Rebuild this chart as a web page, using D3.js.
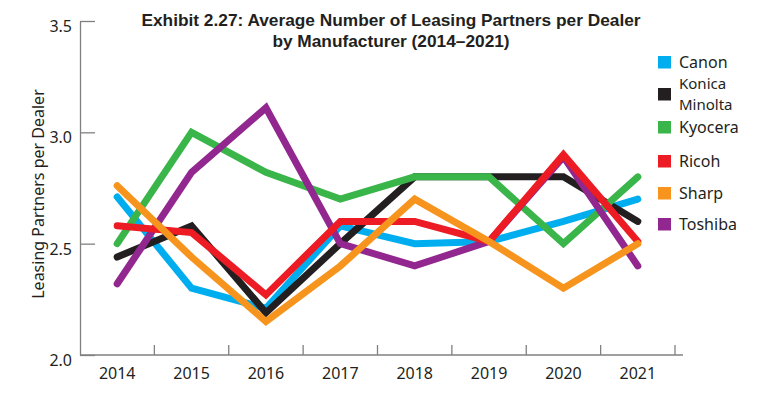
<!DOCTYPE html>
<html>
<head>
<meta charset="utf-8">
<script src="https://cdn.jsdelivr.net/npm/d3@7"></script>
<style>
  body { margin: 0; background: #fff; }
  svg { display: block; }
  text { fill: #231f20; }
</style>
</head>
<body>
<svg width="780" height="396"></svg>
<script>
const years = ["2014", "2015", "2016", "2017", "2018", "2019", "2020", "2021"];
const canon   = [2.71, 2.30, 2.21, 2.58, 2.50, 2.51, 2.60, 2.70];
const konica  = [2.44, 2.58, 2.19, 2.50, 2.80, 2.80, 2.80, 2.60];
const kyocera = [2.50, 3.00, 2.82, 2.70, 2.80, 2.80, 2.50, 2.80];
const ricoh   = [2.58, 2.55, 2.27, 2.60, 2.60, 2.51, 2.90, 2.51];
const sharp   = [2.76, 2.44, 2.15, 2.40, 2.70, 2.51, 2.30, 2.50];
const toshiba = [2.32, 2.82, 3.11, 2.50, 2.40, 2.51, 2.89, 2.40];
const yTicks = [2.0, 2.5, 3.0, 3.5];

const series = [
  { name: ["Canon"], values: canon, color: "#00aeef", z: 0 },
  { name: ["Konica", "Minolta"], values: konica, color: "#231f20", z: 1 },
  { name: ["Kyocera"], values: kyocera, color: "#39b54a", z: 2 },
  { name: ["Ricoh"], values: ricoh, color: "#ed1c24", z: 4 },
  { name: ["Sharp"], values: sharp, color: "#f7941d", z: 5 },
  { name: ["Toshiba"], values: toshiba, color: "#92278f", z: 3 }
];

const svg = d3.select("svg");
const plotLeft = 80, plotRight = 675, plotTop = 21, plotBottom = 355;

const x = d3.scaleBand().domain(years).range([plotLeft, plotRight]);
const y = d3.scaleLinear().domain([2, 3.5]).range([plotBottom, plotTop]);
const axisColor = "#808080";

// title
svg.append("text")
  .attr("x", 391).attr("text-anchor", "middle")
  .style("font-family", "'Liberation Sans', Arial, sans-serif")
  .style("font-weight", "bold")
  .style("font-size", "17.3px")
  .selectAll("tspan")
  .data(["Exhibit 2.27: Average Number of Leasing Partners per Dealer", "by Manufacturer (2014\u20132021)"])
  .join("tspan")
  .attr("x", 391)
  .attr("y", (d, i) => 26 + i * 21)
  .text(d => d);

// y axis
const yAxis = svg.append("g")
  .attr("transform", `translate(${plotLeft},0)`)
  .call(d3.axisLeft(y).tickValues(yTicks).tickFormat(d3.format(".1f"))
    .tickSizeInner(-15).tickSizeOuter(0).tickPadding(8));
yAxis.select(".domain").attr("stroke", axisColor).attr("stroke-width", 1.3);
yAxis.selectAll(".tick line").attr("stroke", axisColor).attr("stroke-width", 1.3);
yAxis.selectAll(".tick text")
  .attr("dy", "0.65em")
  .style("font-family", "'Noto Sans', sans-serif")
  .style("font-size", "16px")
  .attr("fill", "#231f20");

// x axis: labels at band centres, ticks at band edges
const xAxis = svg.append("g")
  .attr("transform", `translate(0,${plotBottom})`)
  .call(d3.axisBottom(x).tickSize(0).tickPadding(10));
xAxis.select(".domain").remove();
xAxis.selectAll(".tick text")
  .attr("dy", "0.9em")
  .style("font-family", "'Noto Sans', sans-serif")
  .style("font-size", "16px")
  .attr("fill", "#231f20");

svg.append("line")
  .attr("x1", plotLeft).attr("x2", plotRight + 8)
  .attr("y1", plotBottom).attr("y2", plotBottom)
  .attr("stroke", axisColor).attr("stroke-width", 1.3);

svg.append("g")
  .selectAll("line")
  .data(years)
  .join("line")
  .attr("x1", d => x(d) + x.bandwidth())
  .attr("x2", d => x(d) + x.bandwidth())
  .attr("y1", plotBottom)
  .attr("y2", plotBottom - 10)
  .attr("stroke", axisColor).attr("stroke-width", 1.3);

// y axis title
svg.append("text")
  .attr("transform", "translate(44,194) rotate(-90)")
  .attr("text-anchor", "middle")
  .style("font-family", "'Noto Sans', sans-serif")
  .style("font-size", "16px")
  .text("Leasing Partners per Dealer");

// lines
const line = d3.line()
  .x((d, i) => x(years[i]) + x.bandwidth() / 2)
  .y(d => y(d));

svg.append("g")
  .selectAll("path")
  .data(series.slice().sort((a, b) => a.z - b.z))
  .join("path")
  .attr("d", d => line(d.values))
  .attr("fill", "none")
  .attr("stroke", d => d.color)
  .attr("stroke-width", 7)
  .attr("stroke-linejoin", "miter")
  .attr("stroke-linecap", "round");

// legend
const legendTops = [56, 88, 121, 155, 187, 218];
const legend = svg.append("g")
  .selectAll("g")
  .data(series)
  .join("g")
  .attr("transform", (d, i) => `translate(658,${legendTops[i]})`);

legend.append("rect")
  .attr("width", 13).attr("height", 12.5)
  .attr("fill", d => d.color);

// each legend line is its own text; the two-line entry is spread around its swatch
legend.each(function(d) {
  const g = d3.select(this);
  const n = d.name.length;
  d.name.forEach((word, i) => {
    g.append("text")
      .attr("x", 21)
      .attr("y", n === 1 ? 12 : 1 + i * 20.6)
      .style("font-family", "'Noto Sans', sans-serif")
      .style("font-size", n === 1 ? "16px" : "15px")
      .text(word);
  });
});
</script>
</body>
</html>
